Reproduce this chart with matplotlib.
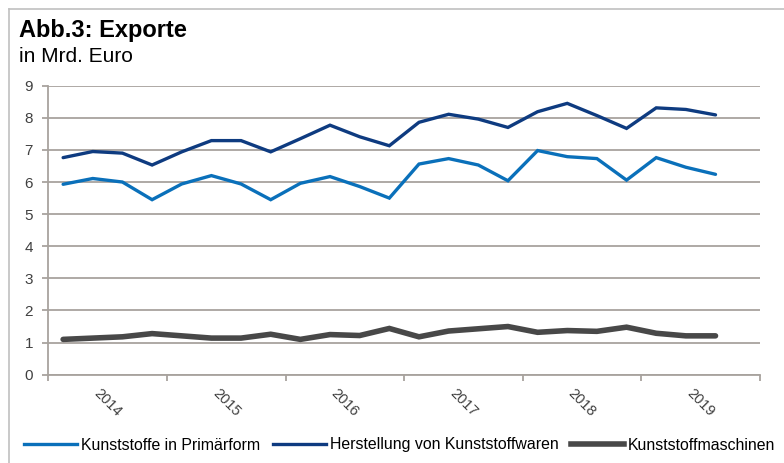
import matplotlib
matplotlib.use("Agg")
import matplotlib.pyplot as plt
from matplotlib.lines import Line2D
import numpy as np

plt.rcParams['font.family'] = ['Liberation Sans', 'DejaVu Sans']

years = ["2014", "2015", "2016", "2017", "2018", "2019"]
quarters_per_year = 4
primaerform = [5.93, 6.11, 6.00, 5.45, 5.94, 6.20, 5.94, 5.45, 5.96, 6.17, 5.86, 5.50,
               6.56, 6.73, 6.53, 6.04, 6.98, 6.79, 6.73, 6.06, 6.76, 6.46, 6.24]
kunststoffwaren = [6.76, 6.95, 6.90, 6.53, 6.94, 7.29, 7.29, 6.94, 7.35, 7.77, 7.41, 7.13,
                   7.86, 8.11, 7.96, 7.70, 8.19, 8.45, 8.07, 7.67, 8.31, 8.26, 8.09]
maschinen = [1.10, 1.14, 1.18, 1.28, 1.21, 1.14, 1.14, 1.26, 1.10, 1.25, 1.22, 1.44,
             1.18, 1.36, 1.43, 1.50, 1.32, 1.375, 1.35, 1.48, 1.29, 1.21, 1.21]
series_names = ["Kunststoffe in Primärform", "Herstellung von Kunststoffwaren", "Kunststoffmaschinen"]
colors = ["#0a70ba", "#0e3b80", "#484848"]
widths = [2.4, 2.4, 4.0]

W, H = 784, 463
fig = plt.figure(figsize=(W / 100, H / 100), dpi=100)
ax = fig.add_axes([48.3 / W, 1 - 374.7 / H, (760 - 48.3) / W, (374.7 - 85.7) / H])

n_slots = len(years) * quarters_per_year
x = np.arange(len(primaerform)) + 0.5
for vals, c, lw in zip([primaerform, kunststoffwaren, maschinen], colors, widths):
    ax.plot(x, vals, color=c, lw=lw, solid_joinstyle='miter', solid_capstyle='round')

grid_c = "#a8a39e"
ax.set_xlim(0, n_slots)
ax.set_ylim(0, 9)
ax.set_yticks(range(0, 10))
ax.yaxis.grid(True, color=grid_c, lw=1.3)
ax.set_axisbelow(True)
ax.set_xticks(range(0, n_slots + 1, quarters_per_year))
ax.set_xticklabels([])
for s in ["top", "right"]:
    ax.spines[s].set_visible(False)
for s in ["left", "bottom"]:
    ax.spines[s].set_color(grid_c)
    ax.spines[s].set_linewidth(1.3)
ax.tick_params(axis='both', colors=grid_c, length=4, width=1.3)
ax.tick_params(axis='y', labelcolor="#404040", labelsize=11, pad=7)

for i, y in enumerate(years):
    ax.text(i * quarters_per_year + quarters_per_year / 2, -0.35, y, rotation=-45,
            ha='center', va='top', fontsize=10.5, color="#404040")

fig.text(19 / W, 1 - 36.5 / H, "Abb.3: Exporte", fontsize=17, fontweight='bold', color="black", va='baseline')
fig.text(19 / W, 1 - 62 / H, "in Mrd. Euro", fontsize=15, color="black", va='baseline')

# border (left and top)
fig.add_artist(Line2D([9 / W, 9 / W], [0, 1 - 9 / H], color="#c0c0c0", lw=1.2))
fig.add_artist(Line2D([9 / W, 1], [1 - 9 / H, 1 - 9 / H], color="#c0c0c0", lw=1.2))

handles = [Line2D([], [], color=c, lw=lw) for c, lw in zip(colors, widths)]
leg = fig.legend(handles, series_names, ncol=3, loc='center left',
                 bbox_to_anchor=(24 / W, 1 - 445 / H), frameon=False, fontsize=11.4,
                 handlelength=3.35, handletextpad=0.25, columnspacing=0.8,
                 borderaxespad=0, borderpad=0)

fig.savefig("out.png", dpi=100)
